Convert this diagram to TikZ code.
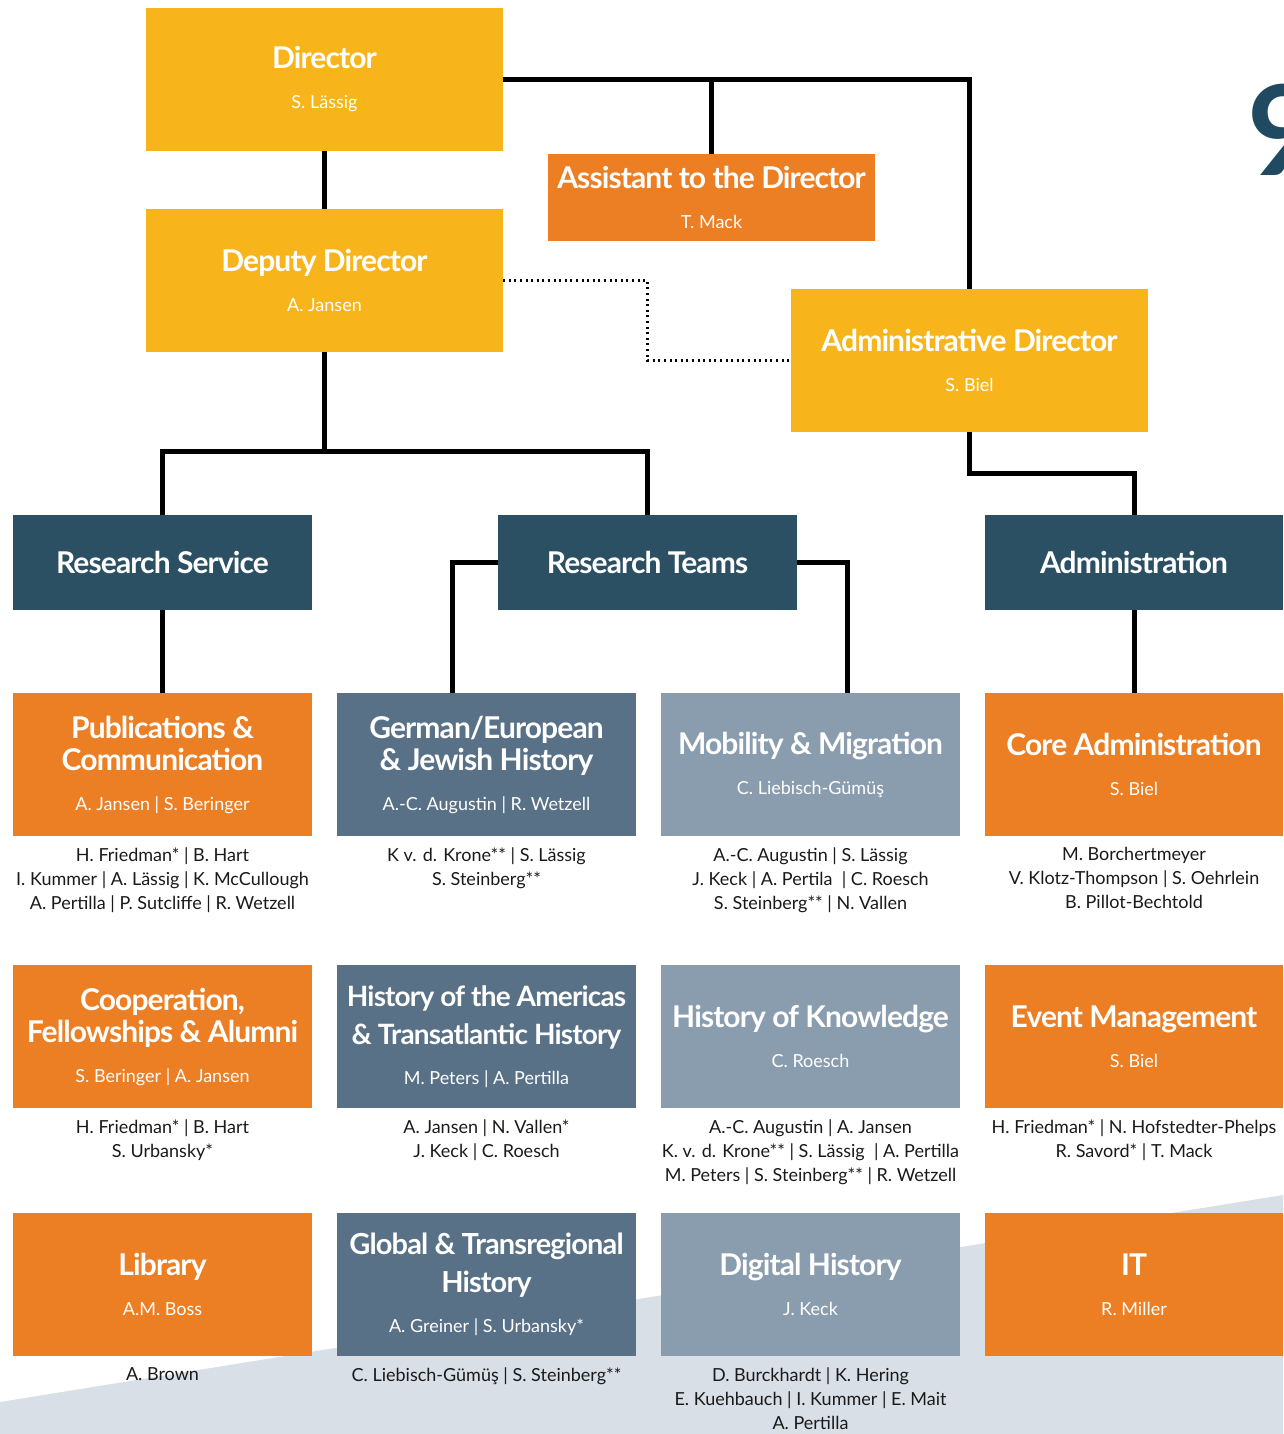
\documentclass[tikz,border=0pt]{standalone}
\usepackage{fontspec}
\setmainfont{Lato}
\newfontfamily\headfont[LetterSpace=-3.0]{Lato}
\usetikzlibrary{positioning}

\definecolor{dirgold}{HTML}{F8B51B}
\definecolor{unitorange}{HTML}{EC7E24}
\definecolor{deptblue}{HTML}{2B4F63}
\definecolor{teamslate}{HTML}{587187}
\definecolor{teamgrey}{HTML}{8A9DAF}
\definecolor{bgwash}{HTML}{D9DFE7}
\definecolor{logoteal}{HTML}{1F4A62}
\definecolor{inkblack}{HTML}{1A1A1A}

\newcommand{\person}[1]{{\normalfont\fontsize{18}{20}\selectfont #1}}

\tikzset{
  boxtext/.style={inner sep=0, align=center, text=white, font=\headfont\bfseries\fontsize{30}{32}\selectfont},
  topbox/.style={boxtext, fill=dirgold, minimum width=357, minimum height=143},
  deptbox/.style={boxtext, fill=deptblue, minimum width=299, minimum height=95},
  unitbox/.style={boxtext, minimum width=299, minimum height=143},
  staff/.style={inner sep=0, align=center, text=inkblack, font=\fontsize{18}{24}\selectfont},
  link/.style={line width=5pt},
  dotlink/.style={line width=2.2pt, dash pattern=on 2pt off 3.6pt}
}

\begin{document}
\begin{tikzpicture}[x=1pt, y=-1pt]
% Page size and the light band at the bottom
\useasboundingbox (0,0) rectangle (1283,1434);
\fill[bgwash] (0,1402) -- (1283,1195) -- (1283,1434) -- (0,1434) -- cycle;
\node[font=\bfseries\fontsize{125}{125}\selectfont, text=logoteal, anchor=west, inner sep=0] (logo) at (1247,130) {9};

% Management
\node[topbox] (director) at (324.5,79.5) {Director\\[8pt]\person{S. Lässig}};
\node[topbox] (deputy) at (324.5,280.5) {Deputy Director\\[8pt]\person{A. Jansen}};
\node[boxtext, fill=unitorange, minimum width=327, minimum height=87] (assistant) at (711.5,197.5) {Assistant to the Director\\[8pt]\person{T. Mack}};
\node[topbox] (admdir) at (969.5,360.5) {Administrative Director\\[8pt]\person{S. Biel}};

% Departments
\node[deptbox] (resserv) at (162.5,562.5) {Research Service};
\node[deptbox] (resteams) at (647.5,562.5) {Research Teams};
\node[deptbox, minimum width=298] (admin) at (1134,562.5) {Administration};

% Units, first row
\node[unitbox, fill=unitorange] (pubcom) at (162.5,764.5) {Publications \&\\Communication\\[8pt]\person{A. Jansen | S. Beringer}};
\node[unitbox, fill=teamslate] (gerjew) at (486.5,764.5) {German/European\\\& Jewish History\\[8pt]\person{A.-C. Augustin | R. Wetzell}};
\node[unitbox, fill=teamgrey] (mobmig) at (810.5,764.5) {Mobility \& Migration\\[8pt]\person{C. Liebisch-Gümüş}};
\node[unitbox, fill=unitorange, minimum width=298] (coreadm) at (1134,764.5) {Core Administration\\[8pt]\person{S. Biel}};
\node[staff, below=11pt of pubcom] (pubcomstaff) {H. Friedman* | B. Hart\\I. Kummer | A. Lässig | K. McCullough\\A. Pertilla | P. Sutcliffe | R. Wetzell};
\node[staff, below=11pt of gerjew] (gerjewstaff) {K v. d. Krone** | S. Lässig\\S. Steinberg**};
\node[staff, below=11pt of mobmig] (mobmigstaff) {A.-C. Augustin | S. Lässig\\J. Keck | A. Pertila \ | C. Roesch\\S. Steinberg** | N. Vallen};
\node[staff, below=11pt of coreadm] (coreadmstaff) {M. Borchertmeyer\\V. Klotz-Thompson | S. Oehrlein\\B. Pillot-Bechtold};

% Units, second row
\node[unitbox, fill=unitorange] (coopfel) at (162.5,1036.5) {Cooperation,\\Fellowships \& Alumni\\[8pt]\person{S. Beringer | A. Jansen}};
\node[unitbox, fill=teamslate, font=\headfont\bfseries\fontsize{28}{32}\selectfont] (americas) at (486.5,1036.5) {History of the Americas\\[6pt]\& Transatlantic History\\[8pt]\person{M. Peters | A. Pertilla}};
\node[unitbox, fill=teamgrey] (knowledge) at (810.5,1036.5) {History of Knowledge\\[8pt]\person{C. Roesch}};
\node[unitbox, fill=unitorange, minimum width=298] (events) at (1134,1036.5) {Event Management\\[8pt]\person{S. Biel}};
\node[staff, below=11pt of coopfel] (coopfelstaff) {H. Friedman* | B. Hart\\S. Urbansky*};
\node[staff, below=11pt of americas] (americasstaff) {A. Jansen | N. Vallen*\\J. Keck | C. Roesch};
\node[staff, below=11pt of knowledge] (knowledgestaff) {A.-C. Augustin | A. Jansen\\K. v. d. Krone** | S. Lässig \ | A. Pertilla\\M. Peters | S. Steinberg** | R. Wetzell};
\node[staff, below=11pt of events] (eventsstaff) {H. Friedman* | N. Hofstedter-Phelps\\R. Savord* | T. Mack};

% Units, third row
\node[unitbox, fill=unitorange] (library) at (162.5,1284.5) {Library\\[8pt]\person{A.M. Boss}};
\node[unitbox, fill=teamslate, font=\headfont\bfseries\fontsize{29}{32}\selectfont] (global) at (486.5,1284.5) {Global \& Transregional\\[6pt]History\\[8pt]\person{A. Greiner | S. Urbansky*}};
\node[unitbox, fill=teamgrey] (digital) at (810.5,1284.5) {Digital History\\[8pt]\person{J. Keck}};
\node[unitbox, fill=unitorange, minimum width=298] (it) at (1134,1284.5) {IT\\[8pt]\person{R. Miller}};
\node[staff, below=11pt of library] (librarystaff) {A. Brown};
\node[staff, below=11pt of global] (globalstaff) {C. Liebisch-Gümüş | S. Steinberg**};
\node[staff, below=11pt of digital] (digitalstaff) {D. Burckhardt | K. Hering\\E. Kuehbauch | I. Kummer | E. Mait\\A. Pertilla};

% Connectors
\coordinate (depsplit) at (324.5,451);
\coordinate (admbend) at (969.5,473);
\draw[link] (director.east) -| (admdir.north);
\draw[link] (assistant.north) -- (assistant.north |- director.east);
\draw[link] (director.south) -- (deputy.north);
\draw[link] (deputy.south) -- (depsplit);
\draw[link] (resserv.north) |- (depsplit) -| (resteams.north);
\draw[dotlink] (deputy.east) -| (resteams.north |- admdir.west) -- (admdir.west);
\draw[link] (admdir.south) -- (admbend) -| (admin.north);
\draw[link] (resserv.south) -- (pubcom.north);
\draw[link] (resteams.west) -| ([xshift=-34pt]gerjew.north);
\draw[link] (resteams.east) -| ([xshift=37pt]mobmig.north);
\draw[link] (admin.south) -- (coreadm.north);
\end{tikzpicture}
\end{document}
